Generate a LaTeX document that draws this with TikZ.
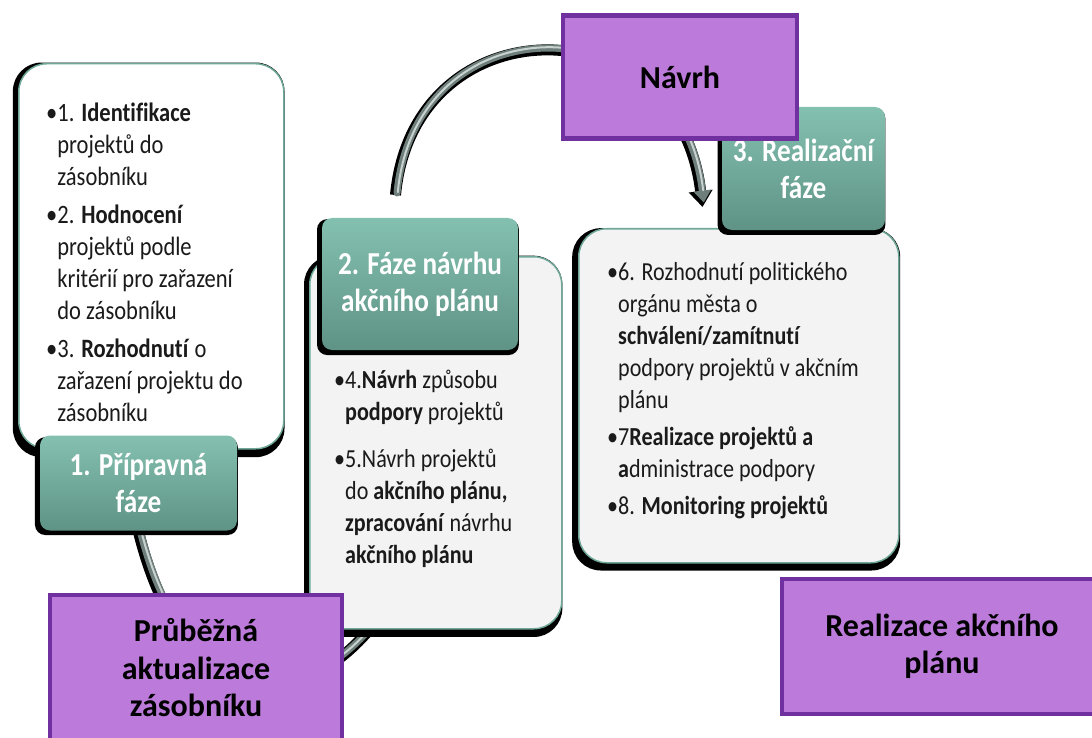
\documentclass[tikz,border=0pt]{standalone}
\usepackage{fontspec}
\setmainfont{Carlito}[Ligatures=NoCommon]
\newfontfamily\tallfont{Carlito}[FakeStretch=0.85,Ligatures=NoCommon]
\usetikzlibrary{arrows.meta,shadows}
\definecolor{teal1}{HTML}{84C0B0}
\definecolor{teal2}{HTML}{5E9385}
\definecolor{tealline}{HTML}{6FA898}
\definecolor{purp}{HTML}{BC7BDB}
\definecolor{purpline}{HTML}{7030A0}
\definecolor{boxfill}{HTML}{F3F3F3}
\definecolor{arrgray}{HTML}{6E7E7A}
\definecolor{arrlight}{HTML}{C8D2CF}
\definecolor{txt}{HTML}{1A1A1A}
\newcommand{\ind}{\phantom{•}}
\begin{document}
\begin{tikzpicture}[x=1pt,y=-1pt,
  card/.style={draw=tealline, line width=1.5pt, rounded corners=28pt, anchor=north west, inner sep=0pt,
    general shadow={fill=black, shadow xshift=-2.5pt, shadow yshift=-3.5pt, shadow scale=1.025}},
  lab/.style={rounded corners=10pt, top color=teal1, bottom color=teal2, text=white, align=center,
    font=\tallfont\bfseries\fontsize{32}{37}\selectfont, inner sep=0pt,
    general shadow={fill=black, shadow xshift=-2pt, shadow yshift=-3pt, shadow scale=1.03}},
  pbox/.style={fill=purp, draw=purpline, line width=4.5pt, align=center, inner sep=0pt,
    font=\bfseries\fontsize{32}{37.5}\selectfont},
  btext/.style={anchor=north west, align=left, inner sep=0pt, text=txt, font=\tallfont\fontsize{26}{32}\selectfont},
  arr/.style={line width=7pt, draw=arrgray, line cap=round, -{Triangle[length=12pt,width=17pt]}, shorten >=2.5pt,
    preaction={draw=black, line width=11pt, shorten >=0pt, -{Triangle[length=16pt,width=23pt]},
      transform canvas={shift={(-1.5pt,-2pt)}}},
    postaction={draw=arrlight, line width=2pt, -, shorten >=14pt, transform canvas={shift={(0.8pt,0.8pt)}}}}
]
\useasboundingbox (0,0) rectangle (1092,738);

% connectors (behind the boxes)
\coordinate (a1s) at (397,193);
\coordinate (a1e) at (704,205);
\coordinate (a2s) at (140,530);
\coordinate (a2e) at (388,606);
\draw[arr] (a1s) .. controls (415,0) and (680,0) .. (a1e);
\draw[arr] (a2s) .. controls (185,710) and (300,720) .. (a2e);

% phase 1
\node[card, fill=white, minimum width=265pt, minimum height=385pt] (box1) at (18,63) {};
\node[btext, font=\tallfont\fontsize{26.5}{32}\selectfont] (t1) at (46,103) {•1. \textbf{Identifikace}\\\ind projektů do\\\ind zásobníku\\[6pt]
•2. \textbf{Hodnocení}\\\ind projektů podle\\\ind kritérií pro zařazení\\\ind do zásobníku\\[6pt]
•3. \textbf{Rozhodnutí} o\\\ind zařazení projektu do\\\ind zásobníku};
\node[lab, minimum width=197pt, minimum height=95pt] (lab1) at (138.5,483) {1. Přípravná\\fáze};

% phase 2
\node[card, fill=boxfill, minimum width=252pt, minimum height=372pt] (box2) at (309,256) {};
\node[lab, minimum width=196pt, minimum height=132pt] (lab2) at (420,284) {2. Fáze návrhu\\akčního plánu};
\node[btext] (t2) at (334,370) {•4.\textbf{Návrh} způsobu\\\ind\textbf{podpory} projektů\\[15pt]
•5.Návrh projektů\\\ind do \textbf{akčního plánu,}\\\ind\textbf{zpracování} návrhu\\\ind\textbf{akčního plánu}};

% phase 3
\node[card, fill=boxfill, minimum width=320pt, minimum height=334pt] (box3) at (578,228) {};
\node[lab, minimum width=163pt, minimum height=123pt] (lab3) at (803.5,168.5) {3. Realizační\\fáze};
\node[btext] (t3) at (607,262) {•6. Rozhodnutí politického\\\ind orgánu města o\\\ind\textbf{schválení/zamítnutí}\\\ind podpory projektů v akčním\\\ind plánu\\[5pt]
•7\textbf{Realizace projektů a}\\\ind\textbf{a}dministrace podpory\\[5pt]
•8. \textbf{Monitoring projektů}};

% purple labels
\node[pbox, minimum width=234pt, minimum height=123pt] (navrh) at (680,77) {Návrh};
\node[pbox, minimum width=292pt, minimum height=146pt] (prub) at (196,668) {Průběžná\\aktualizace\\zásobníku};
\node[pbox, minimum width=320pt, minimum height=135pt] (real) at (942,646.5) {Realizace akčního\\plánu};
\end{tikzpicture}
\end{document}
